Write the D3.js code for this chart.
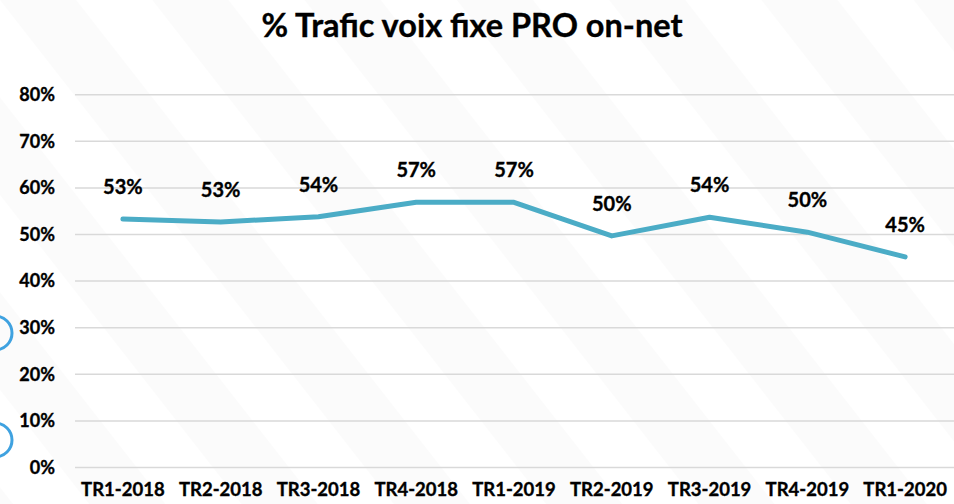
<!DOCTYPE html>
<html>
<head>
<meta charset="utf-8">
<script src="https://cdn.jsdelivr.net/npm/d3@7"></script>
<style>
  html, body { margin: 0; padding: 0; background: #ffffff; }
  svg { display: block; }
  text { font-family: Lato, "Open Sans", sans-serif; font-weight: 700; fill: #000; stroke: #000; stroke-width: 0.35px; }
</style>
</head>
<body>
<svg id="chart" width="954" height="504"></svg>
<script>
// Quarterly share of on-net fixed voice traffic (PRO segment)
const categories = ["TR1-2018", "TR2-2018", "TR3-2018", "TR4-2018", "TR1-2019",
                    "TR2-2019", "TR3-2019", "TR4-2019", "TR1-2020"];
const values = [53.3, 52.7, 53.8, 56.9, 56.9, 49.7, 53.7, 50.5, 45.2];
const labels = ["53%", "53%", "54%", "57%", "57%", "50%", "54%", "50%", "45%"];
const yTicks = [0, 10, 20, 30, 40, 50, 60, 70, 80];
const title = "% Trafic voix fixe PRO on-net";

const W = 954, H = 504;
const margin = { left: 74, right: 0, top: 94.7, bottom: 36.5 };
const svg = d3.select("#chart");

// faint diagonal background bands
const defs = svg.append("defs");
const pat = defs.append("pattern")
  .attr("id", "bands")
  .attr("patternUnits", "userSpaceOnUse")
  .attr("width", 120).attr("height", 120)
  .attr("patternTransform", "rotate(-38)");
pat.append("rect").attr("width", 120).attr("height", 120).attr("fill", "#ffffff");
pat.append("rect").attr("width", 60).attr("height", 120).attr("fill", "#fbfbfb");
svg.append("rect").attr("width", W).attr("height", H).attr("fill", "url(#bands)");

const x = d3.scaleBand()
  .domain(categories)
  .range([margin.left, W - margin.right])
  .paddingInner(0).paddingOuter(0);

const y = d3.scaleLinear()
  .domain([0, 80])
  .range([H - margin.bottom, margin.top]);

// gridlines
svg.append("g")
  .selectAll("line")
  .data(yTicks)
  .join("line")
  .attr("x1", margin.left + 1)
  .attr("x2", W)
  .attr("y1", d => y(d))
  .attr("y2", d => y(d))
  .attr("stroke", "#d9d9d9")
  .attr("stroke-width", 1.5);

// y axis labels
const yAxis = d3.axisLeft(y)
  .tickValues(yTicks)
  .tickFormat(d => d + "%")
  .tickSize(0)
  .tickPadding(0);
svg.append("g")
  .attr("transform", `translate(55,0)`)
  .call(yAxis)
  .call(g => g.select(".domain").remove())
  .call(g => g.selectAll("text")
    .attr("font-size", 18)
    .attr("font-family", "Lato, 'Open Sans', sans-serif")
    .attr("font-weight", 700)
    .attr("fill", "#000"));

// x axis labels
const xAxis = d3.axisBottom(x).tickSize(0).tickPadding(0);
svg.append("g")
  .attr("transform", `translate(0,${H - 21})`)
  .call(xAxis)
  .call(g => g.select(".domain").remove())
  .call(g => g.selectAll("text")
    .attr("dy", "0.71em")
    .attr("font-size", 18.5)
    .attr("font-family", "Lato, 'Open Sans', sans-serif")
    .attr("font-weight", 700)
    .attr("fill", "#000"));

// series line
const cx = d => x(d) + x.bandwidth() / 2;
const line = d3.line()
  .x((d, i) => cx(categories[i]))
  .y(d => y(d));
svg.append("path")
  .datum(values)
  .attr("d", line)
  .attr("fill", "none")
  .attr("stroke", "#4bacc6")
  .attr("stroke-width", 5)
  .attr("stroke-linejoin", "round")
  .attr("stroke-linecap", "round");

// value labels
svg.append("g")
  .selectAll("text")
  .data(values)
  .join("text")
  .attr("x", (d, i) => cx(categories[i]))
  .attr("y", d => y(d) - 25)
  .attr("text-anchor", "middle")
  .attr("font-size", 20)
  .text((d, i) => labels[i]);

// title
svg.append("text")
  .attr("x", 472)
  .attr("y", 37)
  .attr("text-anchor", "middle")
  .attr("font-size", 32.5)
  .text(title);

// decorative rings at the left edge
svg.append("g")
  .selectAll("circle")
  .data([333, 440])
  .join("circle")
  .attr("cx", -5)
  .attr("cy", d => d)
  .attr("r", 17)
  .attr("fill", "none")
  .attr("stroke", "#3fa2e0")
  .attr("stroke-width", 3);
</script>
</body>
</html>
